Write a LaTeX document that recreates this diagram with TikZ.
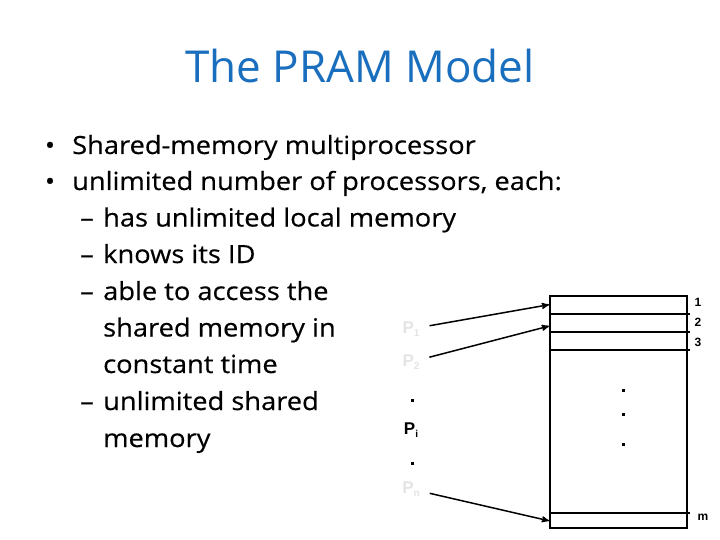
\documentclass[tikz,border=0pt]{standalone}
\usepackage{fontspec}
\setmainfont{Open Sans}
\newfontfamily\bodyfont[Ligatures=TeX,FakeStretch=1.09,FakeBold=0.4]{Open Sans}
\newfontfamily\arialfont{Liberation Sans}
\usetikzlibrary{arrows,positioning}
\definecolor{titleblue}{RGB}{26,110,190}
\definecolor{fadegrey}{RGB}{228,228,228}
\newcommand{\proc}[1]{P\raisebox{-0.4ex}{\fontsize{10}{10}\selectfont #1}}

\begin{document}
\begin{tikzpicture}[x=1pt,y=-1pt,>=stealth',
  bodytext/.style={anchor=base west,inner sep=0pt,font=\bodyfont\fontsize{25}{30}\selectfont},
  bulletmark/.style={anchor=base,inner sep=0pt,font=\bodyfont\fontsize{25}{30}\selectfont},
  cell/.style={inner sep=0pt,minimum width=137pt,anchor=north west},
  divider/.style={line width=2pt},
  proclabel/.style={font=\arialfont\bfseries\fontsize{17}{18}\selectfont,text=fadegrey,inner sep=1pt},
  cellnum/.style={font=\arialfont\bfseries\fontsize{12}{14}\selectfont,inner sep=0pt},
  dotmark/.style={fill=black,inner sep=0pt,minimum size=3pt},
  access/.style={->,line width=1.5pt,shorten <=9pt}]
  \useasboundingbox (0,0) rectangle (720,540);

  % title
  \node[font=\fontsize{44}{50}\selectfont,text=titleblue,anchor=base] (title) at (360,83) {The PRAM Model};

  % bullets
  \node[bulletmark] (bul1) at (50,154) {\textbullet};
  \node[bodytext] (line1) at (72,154) {Shared-memory multiprocessor};
  \node[bulletmark] (bul2) at (50,190) {\textbullet};
  \node[bodytext] (line2) at (72,190) {unlimited number of processors, each:};
  \node[bodytext] (dash1) at (80,226.5) {\textendash};
  \node[bodytext] (line3) at (103,226.5) {has unlimited local memory};
  \node[bodytext] (dash2) at (80,263) {\textendash};
  \node[bodytext] (line4) at (103,263) {knows its ID};
  \node[bodytext] (dash3) at (80,300) {\textendash};
  \node[bodytext] (line5) at (103,300) {able to access the};
  \node[bodytext] (line6) at (103,336.5) {shared memory in};
  \node[bodytext] (line7) at (103,373) {constant time};
  \node[bodytext] (dash4) at (80,410) {\textendash};
  \node[bodytext] (line8) at (103,410) {unlimited shared};
  \node[bodytext] (line9) at (103,447) {memory};

  % shared memory
  \node[draw,line width=2pt,minimum width=137pt,minimum height=232pt,inner sep=0pt,anchor=north west] (mem) at (549,295) {};
  \node[cell,minimum height=19pt] (row1) at (549,295) {};
  \node[cell,minimum height=17pt,below=0pt of row1] (row2) {};
  \node[cell,minimum height=18pt,below=0pt of row2] (row3) {};
  \node[cell,minimum height=16pt,anchor=south west] (rowm) at (mem.south west) {};
  \draw[divider] (row1.south west) -- ++(141,0);
  \draw[divider] (row2.south west) -- ++(141,0);
  \draw[divider] (row3.south west) -- ++(141,0);
  \draw[divider] (rowm.north west) -- ++(141,0);

  \node[cellnum] (num1) at (698,302) {1};
  \node[cellnum] (num2) at (698,322) {2};
  \node[cellnum] (num3) at (698,342) {3};
  \node[cellnum] (numm) at (703,517) {m};

  \node[dotmark] (mdot1) at (623,390) {};
  \node[dotmark] (mdot2) at (623,414) {};
  \node[dotmark] (mdot3) at (623,444) {};

  % processors
  \node[proclabel] (p1) at (411,329) {\proc{1}};
  \node[proclabel] (p2) at (411,362) {\proc{2}};
  \node[dotmark] (pdot1) at (412,400) {};
  \node[proclabel,text=black] (pi) at (411,430) {\proc{i}};
  \node[dotmark] (pdot2) at (412,463) {};
  \node[proclabel] (pn) at (411,489) {\proc{n}};

  \draw[access] (p1) -- (row1.west);
  \draw[access] (p2) -- ([yshift=-3pt]row2.west);
  \draw[access] (pn) -- (rowm.west);
\end{tikzpicture}
\end{document}
